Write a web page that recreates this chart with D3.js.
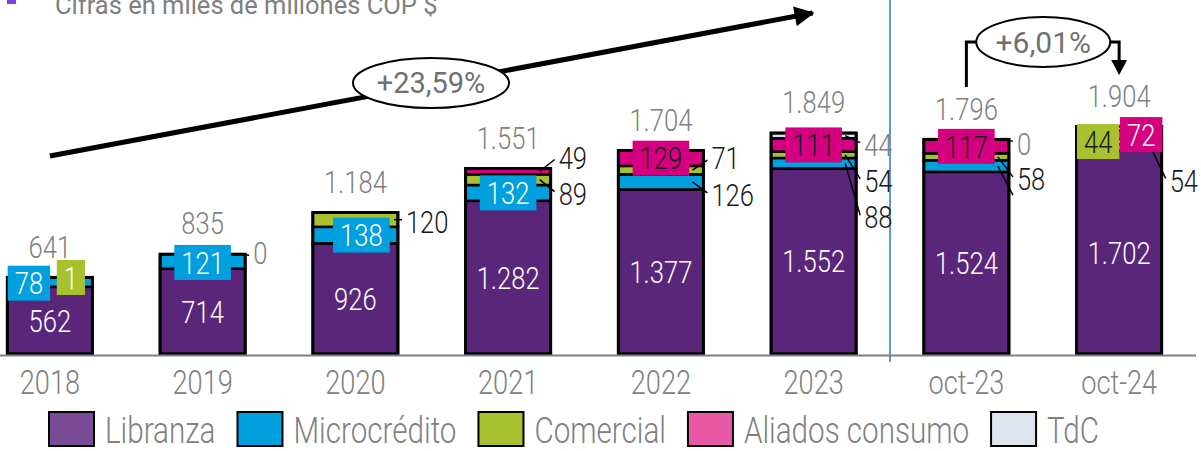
<!DOCTYPE html>
<meta charset="utf-8">
<title>Cartera por producto</title>
<script src="https://cdn.jsdelivr.net/npm/d3@7"></script>
<style>
body {
	margin: 0;
	background: #fff;
}
svg {
	display: block;
	font-family: Roboto, sans-serif;
}
</style>
<body>
<script>
// Data, miles de millones COP $
const categories = ['2018', '2019', '2020', '2021', '2022', '2023', 'oct-23', 'oct-24'];
const seriesNames = ['Libranza', 'Microcrédito', 'Comercial', 'Aliados consumo', 'TdC'];
const libranza = [562, 714, 926, 1282, 1377, 1552, 1524, 1702];
const microcredito = [78, 121, 138, 132, 126, 88, 97, 54];
const comercial = [1, 0, 120, 89, 71, 54, 58, 44];
const aliados = [0, 0, 0, 49, 129, 111, 117, 72];
const tdc = [0, 0, 0, 0, 0, 44, 0, 32];
const totals = [641, 835, 1184, 1551, 1704, 1849, 1796, 1904];
const subtitle = 'Cifras en miles de millones COP $';
const growthAll = '+23,59%';
const growthOct = '+6,01%';

// Styles
const barColors = ['#5a2679', '#009fdd', '#a8c12f', '#d5007f', '#dce3ed'];
const legendColors = ['#7a4b94', '#00a0df', '#a8c12f', '#e95aa6', '#dde4ee'];
const gray = '#808080';
const ink = '#1a1a1a';
const sx = 0.8; // bar labels are set in a condensed face
const width = 1201;
const height = 451;
const baseY = 354;

// Where each segment label goes: 'box' = label with coloured box, 'out' = beside the bar with a leader,
// 'leader' = leader only. Offsets are relative to the segment centre / bar edge.
const labelLayout = [
	{ c: 0, s: 1, mode: 'box', dx: -21, dy: 1, fill: '#fff' },
	{ c: 0, s: 2, mode: 'box', dx: 21, dy: 0, fill: '#fff' },
	{ c: 1, s: 1, mode: 'box', dx: 0, dy: 1, fill: '#fff' },
	{ c: 1, s: 4, mode: 'out', dy: -1, fill: gray },
	{ c: 2, s: 1, mode: 'box', dx: 6, dy: 0, fill: '#fff' },
	{ c: 2, s: 2, mode: 'out', dy: 2, fill: ink },
	{ c: 3, s: 1, mode: 'box', dx: 0, dy: 0, fill: '#fff' },
	{ c: 3, s: 2, mode: 'out', dy: 14, fill: ink },
	{ c: 3, s: 3, mode: 'out', dy: -14, fill: ink },
	{ c: 4, s: 1, mode: 'out', dy: 13, fill: ink },
	{ c: 4, s: 2, mode: 'out', dy: -12, fill: ink },
	{ c: 4, s: 3, mode: 'box', dx: 0, dy: 0, fill: ink },
	{ c: 5, s: 1, mode: 'out', dy: 54, fill: ink },
	{ c: 5, s: 2, mode: 'out', dy: 26, fill: ink },
	{ c: 5, s: 3, mode: 'box', dx: 0, dy: 0, fill: ink },
	{ c: 5, s: 4, mode: 'out', dy: 9, fill: gray },
	{ c: 6, s: 1, mode: 'leader', dy: 29 },
	{ c: 6, s: 2, mode: 'out', dy: 22, fill: ink },
	{ c: 6, s: 3, mode: 'box', dx: 0, dy: 0, fill: ink },
	{ c: 6, s: 4, mode: 'out', dy: 4, fill: gray },
	{ c: 7, s: 1, mode: 'out', dy: 33, fill: ink },
	{ c: 7, s: 2, mode: 'box', dx: -21, dy: 0, fill: ink },
	{ c: 7, s: 3, mode: 'box', dx: 22, dy: 0, fill: '#fff' },
];

const locale = d3.formatLocale({ decimal: ',', thousands: '.', grouping: [3], currency: ['$', ''] });
const fmt = locale.format(',d');

const svg = d3.select('body')
	.append('svg')
		.attr('width', width)
		.attr('height', height);

const x = d3.scaleBand()
	.domain(categories)
	.range([-26.5, 1195.5])
	.paddingInner(0.443)
	.paddingOuter(0.2215);
const y = d3.scaleLinear()
	.domain([0, 2000])
	.range([baseY, 115]);

const seriesValues = [libranza, microcredito, comercial, aliados, tdc];
const rows = categories.map((cat, i) => {
	const row = { cat };
	seriesNames.forEach((name, j) => { row[name] = seriesValues[j][i]; });
	return row;
});
const stacked = d3.stack().keys(seriesNames)(rows);

function addText(g, px, py, str, size, fill, anchor = 'middle', scale = sx, weight = 300) {
	return g.append('text')
		.attr('transform', `translate(${px},${py}) scale(${scale},1)`)
		.attr('text-anchor', anchor)
		.attr('dy', '0.35em')
		.attr('font-size', size)
		.attr('font-weight', weight)
		.attr('fill', fill)
		.text(str);
}

// Subtitle, cut by the top edge as in the slide
svg.append('rect')
	.attr('x', 7).attr('y', -6).attr('width', 9).attr('height', 10)
	.attr('fill', '#7b3fe4');
svg.append('text')
	.attr('x', 55).attr('y', 14)
	.attr('font-size', 25.5)
	.attr('fill', gray)
	.text(subtitle);

// Separator between years and october cuts
const sepX = (x('2023') + x.bandwidth() + x('oct-23')) / 2;
svg.append('line')
	.attr('x1', sepX).attr('x2', sepX)
	.attr('y1', 0).attr('y2', 362)
	.attr('stroke', '#5b9bd5')
	.attr('stroke-width', 2);

// Bars
const bars = svg.append('g');
stacked.forEach((layer, j) => {
	bars.append('g')
		.selectAll('rect')
		.data(layer.filter(d => d[1] > d[0]))
		.join('rect')
			.attr('x', d => x(d.data.cat))
			.attr('y', d => y(d[1]))
			.attr('width', x.bandwidth())
			.attr('height', d => y(d[0]) - y(d[1]))
			.attr('fill', barColors[j])
			.attr('stroke', '#000')
			.attr('stroke-width', 2.5);
});
bars.append('g')
	.selectAll('rect')
	.data(stacked[stacked.length - 1])
	.join('rect')
		.attr('x', d => x(d.data.cat))
		.attr('y', d => y(d[1]))
		.attr('width', x.bandwidth())
		.attr('height', d => baseY - y(d[1]))
		.attr('fill', 'none')
		.attr('stroke', '#000')
		.attr('stroke-width', 3);

// X axis
const axis = svg.append('g')
	.attr('transform', `translate(0,${baseY + 1})`)
	.call(d3.axisBottom(x).tickSize(0).tickPadding(15));
axis.select('.domain')
	.attr('stroke', gray)
	.attr('stroke-width', 2);
axis.selectAll('text')
	.attr('font-size', 34)
	.attr('font-weight', 300)
	.attr('fill', gray)
	.attr('font-family', 'Roboto, sans-serif')
	.attr('transform', `scale(${sx},1)`);

// Labels
const labels = svg.append('g');
const mid = (c, s) => {
	const d = stacked[s][c];
	return (y(d[0]) + y(d[1])) / 2;
};
const centerX = c => x(categories[c]) + x.bandwidth() / 2;

// Libranza values inside the bars
categories.forEach((cat, c) => {
	addText(labels, centerX(c), mid(c, 0), fmt(libranza[c]), 32, '#fff');
});

labelLayout.forEach(l => {
	const value = seriesValues[l.s][l.c];
	const cy = mid(l.c, l.s);
	const right = x(categories[l.c]) + x.bandwidth();
	if (l.mode === 'box') {
		const px = centerX(l.c) + l.dx;
		const py = cy + l.dy;
		const box = labels.append('rect');
		const t = addText(labels, px, py, fmt(value), 32, l.fill);
		const w = t.node().getComputedTextLength() * sx + 14;
		box.attr('x', px - w / 2).attr('y', py - 17.5)
			.attr('width', w).attr('height', 35)
			.attr('fill', barColors[l.s]);
		return;
	}
	const ty = cy + l.dy;
	const x0 = Math.abs(l.dy) < 5 ? right - 4 : right - 11;
	labels.append('line')
		.attr('x1', x0).attr('y1', cy)
		.attr('x2', right + 4).attr('y2', l.mode === 'leader' ? ty : ty - Math.sign(l.dy) * 2)
		.attr('stroke', '#000')
		.attr('stroke-width', 1.5);
	if (l.mode === 'out') {
		addText(labels, right + 8, ty, fmt(value), 32, l.fill, 'start');
	}
});

// Totals above the bars
categories.forEach((cat, c) => {
	addText(labels, centerX(c), y(stacked[stacked.length - 1][c][1]) - 31, fmt(totals[c]), 32, gray);
});

// Growth 2018 -> 2023
const ann = svg.append('g');
svg.append('defs').append('marker')
	.attr('id', 'head')
	.attr('viewBox', '0 0 10 10')
	.attr('refX', 9).attr('refY', 5)
	.attr('markerWidth', 4.5).attr('markerHeight', 4)
	.attr('markerUnits', 'strokeWidth')
	.attr('orient', 'auto')
	.append('path')
		.attr('d', 'M0,0L10,5L0,10Z')
		.attr('fill', '#000');
ann.append('line')
	.attr('x1', centerX(0)).attr('y1', 156)
	.attr('x2', centerX(5) - 1).attr('y2', 13)
	.attr('stroke', '#000')
	.attr('stroke-width', 5)
	.attr('marker-end', 'url(#head)');
ann.append('ellipse')
	.attr('cx', 431).attr('cy', 83).attr('rx', 78).attr('ry', 25)
	.attr('fill', '#fff').attr('stroke', '#000').attr('stroke-width', 2);
addText(ann, 431, 83, growthAll, 29, '#707070', 'middle', 1, 400);

// Growth oct-23 -> oct-24
const bx0 = centerX(6);
const bx1 = centerX(7);
const by = 42;
ann.append('path')
	.attr('d', `M${bx0},87V${by}H${bx1}V62`)
	.attr('fill', 'none')
	.attr('stroke', '#000')
	.attr('stroke-width', 3);
ann.append('path')
	.attr('d', `M${bx1 - 8},60L${bx1 + 8},60L${bx1},75Z`)
	.attr('fill', '#000');
ann.append('ellipse')
	.attr('cx', (bx0 + bx1) / 2 + 0.5).attr('cy', by).attr('rx', 67).attr('ry', 25)
	.attr('fill', '#fff').attr('stroke', '#000').attr('stroke-width', 2);
addText(ann, (bx0 + bx1) / 2 + 0.5, by, growthOct, 30, '#707070', 'middle', 1, 400);

// Legend
const legend = svg.append('g');
let lx = 49;
seriesNames.forEach((name, j) => {
	legend.append('rect')
		.attr('x', lx).attr('y', 412)
		.attr('width', 45).attr('height', 34)
		.attr('fill', legendColors[j])
		.attr('stroke', '#000')
		.attr('stroke-width', 2);
	const t = addText(legend, lx + 56, 430, name, 37, gray, 'start');
	lx += 56 + t.node().getComputedTextLength() * sx + 22;
});
</script>
</body>
